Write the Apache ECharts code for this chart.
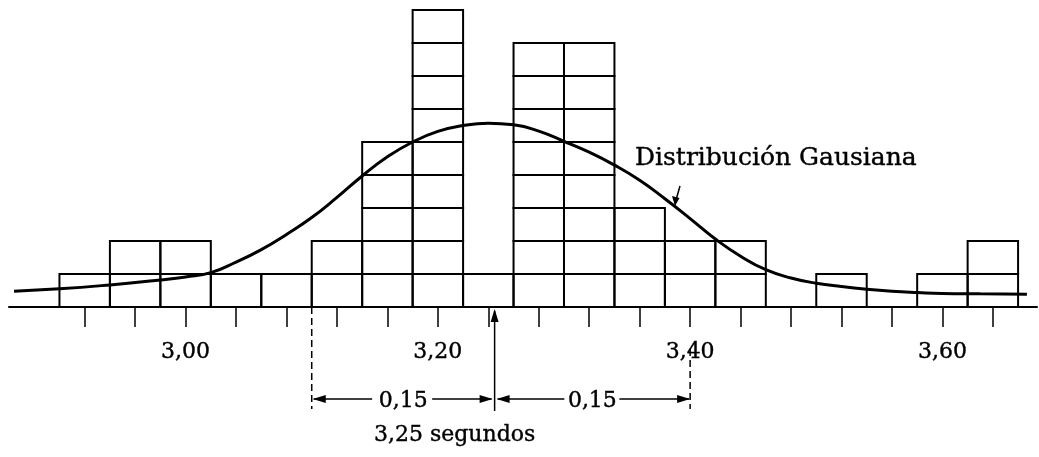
<!DOCTYPE html>
<html>
<head>
<meta charset="utf-8">
<script src="https://cdn.jsdelivr.net/npm/echarts@6/dist/echarts.min.js"></script>
<style>
html,body{margin:0;padding:0;background:#fff;}
#chart{width:1039px;height:457px;}
</style>
</head>
<body>
<div id="chart"></div>
<script>
// ---- data ----
var binCenters = [2.92, 2.96, 3.00, 3.04, 3.08, 3.12, 3.16, 3.20, 3.24, 3.28, 3.32, 3.36, 3.40, 3.44, 3.48, 3.52, 3.56, 3.60, 3.64];
var binCounts  = [1,    2,    2,    1,    1,    2,    5,    9,    1,    8,    8,    3,    2,    2,    0,    1,    0,    1,    2];
var binWidth = 0.04;
var curveX = [2.864, 2.90, 2.94, 2.98, 3.00, 3.02, 3.04, 3.06, 3.08, 3.10, 3.12, 3.14, 3.16, 3.18, 3.20, 3.22, 3.24, 3.26, 3.28, 3.30, 3.32, 3.34, 3.36, 3.38, 3.40, 3.42, 3.44, 3.46, 3.48, 3.50, 3.52, 3.54, 3.56, 3.58, 3.60, 3.63, 3.667];
var curveY = [0.48,  0.55, 0.67, 0.82, 0.91, 1.04, 1.36, 1.74, 2.20, 2.71, 3.32, 3.97, 4.55, 5.00, 5.32, 5.50, 5.57, 5.52, 5.33, 5.02, 4.69, 4.30, 3.84, 3.28, 2.68, 2.06, 1.54, 1.13, 0.88, 0.72, 0.62, 0.54, 0.48, 0.44, 0.41, 0.40, 0.39];
var tickLabels = [3.00, 3.20, 3.40, 3.60];
var meanMark = 3.245;      // where the 3,25 arrow is drawn
var leftMark = 3.10;       // 3,25 - 0,15
var rightMark = 3.40;      // 3,25 + 0,15
var spreadLabel = '0,15';
var curveLabel = 'Distribución Gausiana';
var meanLabel = '3,25 segundos';

// ---- build ----
var boxes = [];
binCenters.forEach(function (c, i) {
  for (var k = 0; k < binCounts[i]; k++) boxes.push([c, k]);
});
var curve = curveX.map(function (x, i) { return [x, curveY[i]]; });
function fmt(v) { return v.toFixed(2).replace('.', ','); }
var FONT = '"DejaVu Serif", serif';

var chart = echarts.init(document.getElementById('chart'), null, {renderer: 'canvas'});
chart.setOption({
  animation: false,
  backgroundColor: '#fff',
  grid: {left: 9, right: 2, top: 10, bottom: 150},
  xAxis: {
    type: 'value', min: 2.86, max: 3.675,
    splitLine: {show: false},
    axisLine: {show: true, onZero: false, lineStyle: {color: '#000', width: 2}},
    axisTick: {show: true, length: 20, customValues: binCenters, lineStyle: {color: '#000', width: 1.5}},
    axisLabel: {show: true, customValues: tickLabels, margin: 34, color: '#000',
      fontFamily: FONT, fontSize: 22, textBorderColor: '#000', textBorderWidth: 0.4,
      formatter: function (v) { return fmt(v); }}
  },
  yAxis: {type: 'value', min: 0, max: 9, show: false, splitLine: {show: false}},
  series: [
    {
      type: 'custom', data: boxes, z: 2,
      renderItem: function (params, api) {
        var c = api.value(0), k = api.value(1);
        var p0 = api.coord([c - binWidth / 2, k + 1]);
        var p1 = api.coord([c + binWidth / 2, k]);
        return {type: 'rect', shape: {x: p0[0], y: p0[1], width: p1[0] - p0[0], height: p1[1] - p0[1]},
          style: {fill: null, stroke: '#000', lineWidth: 2}};
      }
    },
    {
      type: 'line', data: curve, smooth: 0.5, showSymbol: false, z: 3,
      lineStyle: {color: '#000', width: 3}
    }
  ]
});

function px(v, y) { return chart.convertToPixel({gridIndex: 0}, [v, y]); }
var base = px(meanMark, 0)[1];
var xm = px(meanMark, 0)[0];
var xl = px(leftMark, 0)[0];
var xr = px(rightMark, 0)[0];
var ya = base + 92;
var g = [];
function line(x1, y1, x2, y2, w, dash) {
  g.push({type: 'line', shape: {x1: x1, y1: y1, x2: x2, y2: y2}, style: {stroke: '#000', lineWidth: w || 1.5, lineDash: dash || null}});
}
function head(tx, ty, dir) {
  var L = 13, W = 4, pts;
  if (dir === 'l') pts = [[tx, ty], [tx + L, ty - W], [tx + L, ty + W]];
  if (dir === 'r') pts = [[tx, ty], [tx - L, ty - W], [tx - L, ty + W]];
  if (dir === 'u') pts = [[tx, ty], [tx - W, ty + L], [tx + W, ty + L]];
  g.push({type: 'polygon', shape: {points: pts}, style: {fill: '#000'}});
}
function text(s, x, y, size, align) {
  g.push({type: 'text', x: x, y: y, style: {text: s, fill: '#000', font: size + 'px ' + FONT,
    stroke: '#000', lineWidth: 0.4, align: align || 'center', verticalAlign: 'middle'}});
}
// mean arrow
line(xm, base + 4, xm, base + 104, 1.5);
head(xm, base + 2, 'u');
// dashed verticals
line(xl, base, xl, base + 102, 1.5, [7, 4]);
line(xr, base + 42, xr, base + 102, 1.5, [7, 4]);
// dimension arrows
var midL = (xl + xm) / 2, midR = (xm + xr) / 2;
line(xl + 2, ya, midL - 31, ya); line(midL + 29, ya, xm - 3, ya);
head(xl + 1, ya, 'l'); head(xm - 2, ya, 'r');
line(xm + 3, ya, midR - 28, ya); line(midR + 27, ya, xr - 1, ya);
head(xm + 2, ya, 'l'); head(xr, ya, 'r');
text(spreadLabel, midL, ya + 2, 22);
text(spreadLabel, midR, ya + 2, 22);
text(meanLabel, xm - 40, base + 128, 22);
// curve label
var tip = px(3.388, 3.0);
text(curveLabel, tip[0] - 40, tip[1] - 50, 25, 'left');
line(tip[0] + 5, tip[1] - 22, tip[0] + 1, tip[1] - 8, 1.5);
g.push({type: 'polygon', shape: {points: [[tip[0], tip[1] - 2], [tip[0] - 3, tip[1] - 12], [tip[0] + 4.5, tip[1] - 10]]}, style: {fill: '#000'}});
chart.setOption({graphic: g});
</script>
</body>
</html>
